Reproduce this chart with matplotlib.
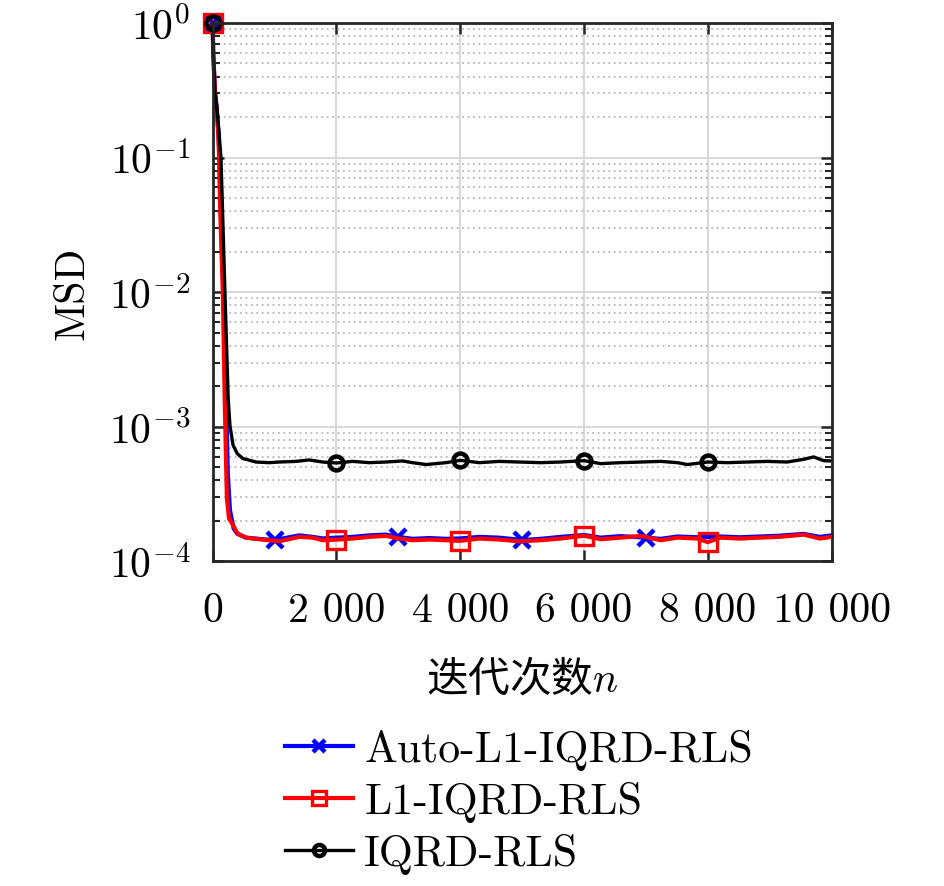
import numpy as np
import matplotlib
matplotlib.use("Agg")
import matplotlib.pyplot as plt
from matplotlib.ticker import FixedLocator, FixedFormatter, LogLocator, NullLocator

plt.rcParams['font.family'] = ['cmr10', 'Noto Sans CJK SC', 'DejaVu Sans']
plt.rcParams['mathtext.fontset'] = 'cm'
plt.rcParams['axes.unicode_minus'] = False

# data
n_blue = [0, 10, 37, 65, 95, 112, 125, 150, 175, 200,
          245, 280, 340, 400, 540, 810, 1000, 1400, 1615, 1777,
          2000, 2260, 2530, 2800, 3000, 3230, 3500, 3770, 4000, 4310,
          4630, 5000, 5300, 5620, 6000, 6270, 6590, 7000, 7240, 7510,
          7830, 8200, 8520, 8840, 9150, 9550, 9810, 10000]
msd_blue = [1, 0.6, 0.31, 0.24, 0.15, 0.1, 0.049, 0.022, 0.01, 0.0035,
            4.5e-4, 2.4e-4, 1.75e-4, 1.6e-4, 1.5e-4, 1.46e-4, 1.44e-4, 1.56e-4, 1.52e-4, 1.48e-4,
            1.5e-4, 1.52e-4, 1.56e-4, 1.58e-4, 1.52e-4, 1.47e-4, 1.49e-4, 1.47e-4, 1.48e-4, 1.52e-4,
            1.5e-4, 1.44e-4, 1.47e-4, 1.52e-4, 1.57e-4, 1.5e-4, 1.54e-4, 1.5e-4, 1.47e-4, 1.53e-4,
            1.51e-4, 1.53e-4, 1.51e-4, 1.53e-4, 1.55e-4, 1.6e-4, 1.52e-4, 1.56e-4]

n_red = [0, 10, 37, 65, 90, 105, 118, 140, 165, 195,
         230, 265, 330, 400, 540, 810, 1077, 1400, 1615, 1777,
         2000, 2260, 2530, 2800, 3015, 3230, 3500, 3770, 4000, 4310,
         4630, 4950, 5300, 5620, 6000, 6270, 6590, 6915, 7240, 7510,
         7830, 8000, 8200, 8520, 8840, 9150, 9550, 9810, 10000]
msd_red = [1, 0.6, 0.31, 0.23, 0.15, 0.1, 0.049, 0.022, 0.01, 0.0016,
           2.94e-4, 2.08e-4, 1.86e-4, 1.61e-4, 1.5e-4, 1.45e-4, 1.41e-4, 1.52e-4, 1.5e-4, 1.435e-4,
           1.45e-4, 1.477e-4, 1.52e-4, 1.546e-4, 1.477e-4, 1.435e-4, 1.452e-4, 1.435e-4, 1.42e-4, 1.477e-4,
           1.452e-4, 1.41e-4, 1.435e-4, 1.477e-4, 1.55e-4, 1.46e-4, 1.5e-4, 1.546e-4, 1.435e-4, 1.5e-4,
           1.477e-4, 1.39e-4, 1.5e-4, 1.477e-4, 1.5e-4, 1.52e-4, 1.58e-4, 1.477e-4, 1.52e-4]

n_black = [0, 10, 37, 65, 100, 134, 155, 200, 252, 280,
           330, 400, 490, 540, 700, 915, 1077, 1346, 1560, 1777,
           2000, 2260, 2530, 2800, 3070, 3230, 3450, 3770, 4000, 4310,
           4630, 4950, 5300, 5620, 6000, 6270, 6590, 6915, 7240, 7510,
           7670, 8000, 8320, 8640, 8960, 9280, 9550, 9710, 9870, 10000]
msd_black = [1, 0.6, 0.31, 0.24, 0.16, 0.1, 0.049, 0.0095, 0.0016, 0.00102,
             7.3e-4, 6.3e-4, 5.8e-4, 5.73e-4, 5.47e-4, 5.41e-4, 5.47e-4, 5.53e-4, 5.67e-4, 5.47e-4,
             5.38e-4, 5.53e-4, 5.41e-4, 5.47e-4, 5.57e-4, 5.41e-4, 5.24e-4, 5.41e-4, 5.63e-4, 5.41e-4,
             5.53e-4, 5.47e-4, 5.41e-4, 5.47e-4, 5.6e-4, 5.32e-4, 5.41e-4, 5.47e-4, 5.53e-4, 5.41e-4,
             5.24e-4, 5.47e-4, 5.41e-4, 5.47e-4, 5.53e-4, 5.47e-4, 5.73e-4, 5.97e-4, 5.6e-4, 5.57e-4]

marks_blue = [0, 1000, 3000, 5000, 7000]
marks_other = [0, 2000, 4000, 6000, 8000]

labels = ['Auto-L1-IQRD-RLS', 'L1-IQRD-RLS', 'IQRD-RLS']
xticks = [0, 2000, 4000, 6000, 8000, 10000]
xticklabels = ['0', '2 000', '4 000', '6 000', '8 000', '10 000']
yticks = [1e-4, 1e-3, 1e-2, 1e-1, 1e0]
yticklabels = [r'$10^{-4}$', r'$10^{-3}$', r'$10^{-2}$', r'$10^{-1}$', r'$10^{0}$']

fig = plt.figure(figsize=(9.45, 8.87), dpi=100)
ax = fig.add_axes([0.225, 0.366, 0.655, 0.607])

ax.plot(n_blue, msd_blue, color=(0, 0, 1), lw=3, marker='x', ms=11, mew=3.2,
        markevery=[n_blue.index(m) for m in marks_blue], label=labels[0], clip_on=False)
ax.plot(n_red, msd_red, color=(1, 0, 0), lw=3, marker='s', ms=13, mew=2.4, mfc='none',
        markevery=[n_red.index(m) for m in marks_other], label=labels[1], clip_on=False)
ax.plot(n_black, msd_black, color='k', lw=2.4, marker='o', ms=10, mew=3.2, mfc='none',
        markevery=[n_black.index(m) for m in marks_other], label=labels[2], clip_on=False)

ax.set_yscale('log')
ax.set_xlim(0, 10000)
ax.set_ylim(1e-4, 1)

ax.xaxis.set_major_locator(FixedLocator(xticks))
ax.xaxis.set_major_formatter(FixedFormatter(xticklabels))
ax.xaxis.set_minor_locator(NullLocator())
ax.yaxis.set_major_locator(FixedLocator(yticks))
ax.yaxis.set_major_formatter(FixedFormatter(yticklabels))
ax.yaxis.set_minor_locator(LogLocator(base=10, subs=np.arange(2, 10), numticks=20))

ax.grid(True, which='major', color='0.85', lw=1.5, ls='-')
ax.grid(True, which='minor', axis='y', color='0.72', lw=1.3, ls=(0, (1, 2)))
ax.set_axisbelow(True)

ax.tick_params(which='both', direction='in', top=True, right=True, color='0.15',
               labelsize=30)
ax.tick_params(axis='x', pad=22)
ax.tick_params(axis='y', pad=16)
ax.tick_params(which='major', length=8, width=1.8)
ax.tick_params(which='minor', length=5, width=1.5)
for s in ax.spines.values():
    s.set_linewidth(2)
    s.set_color('0.15')

ax.set_xlabel('迭代次数$n$', fontsize=30, labelpad=20, fontfamily='Noto Sans CJK SC')
ax.set_ylabel('MSD', fontsize=30, labelpad=12)

fig.legend(loc='center left', bbox_to_anchor=(0.302, 0.095), frameon=False,
           fontsize=31.5, handlelength=1.55, handletextpad=0.25, labelspacing=0.25,
           borderpad=0, borderaxespad=0, markerscale=0.8)

fig.savefig('out.png', dpi=100)
